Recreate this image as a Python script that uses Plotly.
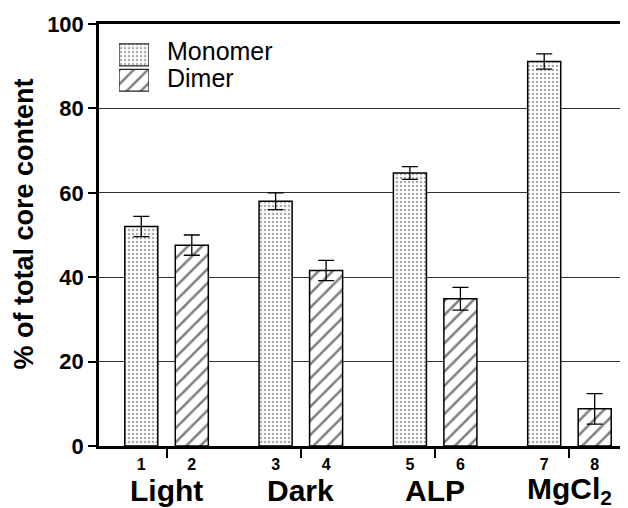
import plotly.graph_objects as go

groups = ["Light", "Dark", "ALP", "MgCl<sub>2</sub>"]
lane_labels = ["1", "2", "3", "4", "5", "6", "7", "8"]
series_names = ["Monomer", "Dimer"]
monomer = [52.0, 58.0, 64.7, 91.1]
monomer_err = [2.4, 2.0, 1.5, 1.8]
dimer = [47.6, 41.6, 34.9, 8.8]
dimer_err = [2.4, 2.4, 2.7, 3.6]

FONT = "Arial, Liberation Sans, sans-serif"
gx = [0, 1, 2, 3]
off = 0.188
bw = 0.246

pat_mono = dict(shape=".", size=4, solidity=0.3, fgcolor="#555555", bgcolor="white")
pat_dim = dict(shape="/", size=10, solidity=0.25, fgcolor="black", bgcolor="white")
outline = dict(color="black", width=1.5)

fig = go.Figure()
fig.add_trace(go.Bar(
    name=series_names[0], x=[g - off for g in gx], y=monomer, width=bw, showlegend=False,
    error_y=dict(type="data", array=monomer_err, color="black", thickness=1.3, width=8),
    marker=dict(color="white", line=outline, pattern=pat_mono),
))
fig.add_trace(go.Bar(
    name=series_names[1], x=[g + off for g in gx], y=dimer, width=bw, showlegend=False,
    error_y=dict(type="data", array=dimer_err, color="black", thickness=1.3, width=8),
    marker=dict(color="white", line=outline, pattern=pat_dim),
))

# legend key swatches (inset axes)
for name, pat in zip(series_names, [pat_mono, pat_dim]):
    fig.add_trace(go.Bar(
        x=[1], y=[name], orientation="h", width=0.86, showlegend=False, cliponaxis=False,
        marker=dict(color="white", line=dict(color="#222222", width=1.3), pattern=pat),
        xaxis="x2", yaxis="y2", hoverinfo="skip",
    ))

legend_text_y = [0.937, 0.873]
for name, yy in zip(series_names, legend_text_y):
    fig.add_annotation(x=0.1248, y=yy, xref="paper", yref="paper", text=name, showarrow=False,
                       xanchor="left", yanchor="middle",
                       font=dict(family=FONT, size=25, color="black"))

lane_x = []
for g in gx:
    lane_x += [g - off, g + off]

for g, lab in zip(gx, groups):
    fig.add_annotation(x=g, y=0, xref="x", yref="paper", text=lab, showarrow=False,
                       yanchor="middle", yshift=-44,
                       font=dict(family=FONT, size=30, color="black", weight="bold"))

fig.add_annotation(x=-0.1408, y=0.526, xref="paper", yref="paper",
                   text="% of total core content", textangle=-90, showarrow=False,
                   xanchor="center", yanchor="middle",
                   font=dict(family=FONT, size=27, color="black", weight="bold"))

fig.update_layout(
    width=620, height=500,
    margin=dict(l=91, r=0, t=16, b=62),
    paper_bgcolor="white", plot_bgcolor="white",
    font=dict(family=FONT, color="black"),
    barmode="overlay",
    showlegend=False,
    xaxis=dict(range=[-0.503, 3.436], tickvals=lane_x, ticktext=lane_labels,
               ticks="", ticklabelstandoff=2,
               tickfont=dict(family=FONT, size=16, color="black", weight="bold"),
               showline=True, linecolor="black", linewidth=2.5, mirror=True,
               showgrid=False, zeroline=False,
               minor=dict(tick0=0, dtick=1, ticks="outside", ticklen=9, tickwidth=1.5,
                          tickcolor="black", showgrid=False)),
    yaxis=dict(range=[0, 100], tickvals=[0, 20, 40, 60, 80, 100],
               ticks="outside", ticklen=8, tickwidth=2, tickcolor="black",
               tickfont=dict(family=FONT, size=22, color="black", weight="bold"),
               showline=True, linecolor="black", linewidth=2.5,
               showgrid=True, gridcolor="#333333", gridwidth=1.3, zeroline=False),
    xaxis2=dict(domain=[0.0378, 0.0945], range=[0, 1], anchor="y2", visible=False),
    yaxis2=dict(domain=[0.8365, 0.957], range=[1.5, -0.5], anchor="x2", visible=False,
                type="category"),
)

fig.write_html("out.html")
